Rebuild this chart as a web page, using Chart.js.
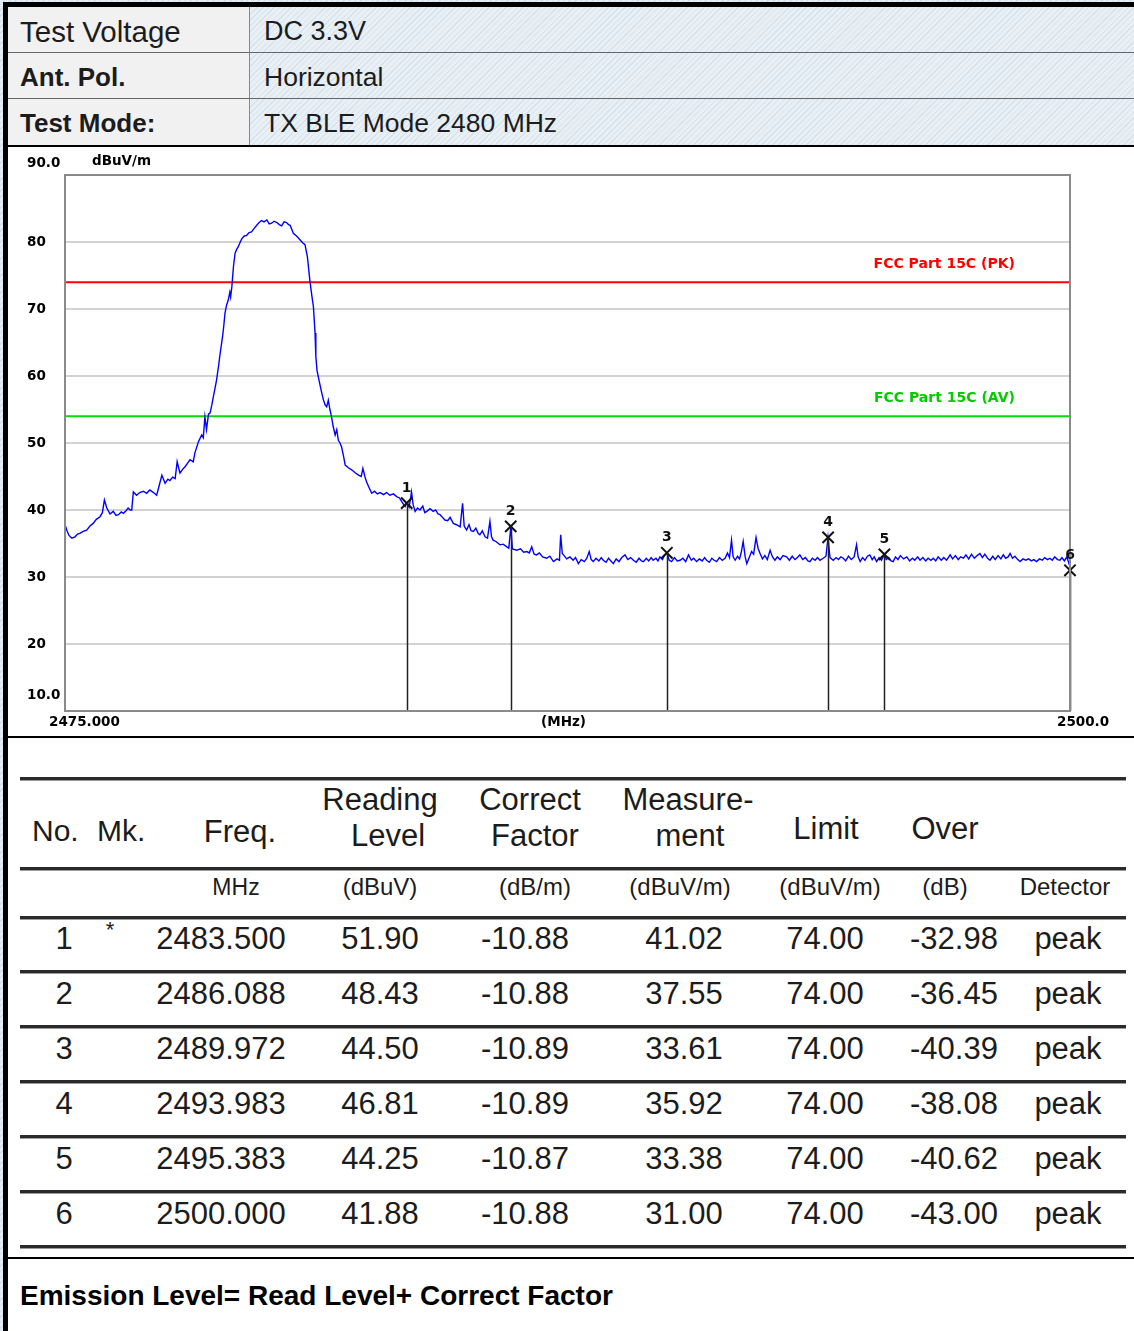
<!DOCTYPE html>
<html>
<head>
<meta charset="utf-8">
<script src="https://cdn.jsdelivr.net/npm/chart.js"></script>
<style>
  html, body { margin: 0; padding: 0; }
  body {
    width: 1134px; height: 1331px; position: relative; overflow: hidden;
    font-family: "Liberation Sans", Arial, sans-serif; color: #1c1c1c;
    background: repeating-linear-gradient(-45deg, #e6eef5 0px, #e6eef5 3px, #d2dfea 3px, #d2dfea 4px);
  }
  .blk { position: absolute; background: #000; }
  .cell { position: absolute; box-sizing: border-box; }
  .lab { background: #f1f1f1; }
  .val { background: repeating-linear-gradient(-45deg, #e8f0f6 0px, #e8f0f6 3px, #d6e2ec 3px, #d6e2ec 4px); }
  .t { position: absolute; white-space: nowrap; line-height: 1; }
  .hl { position: absolute; left: 20px; width: 1106px; height: 3px; background: #2a2a2a; box-shadow: 0 1px 0 #9a9a9a; }
</style>
</head>
<body>
<!-- page frame -->
<div class="blk" style="left:3px; top:2px; width:1131px; height:5px;"></div>
<div class="blk" style="left:3px; top:2px; width:5px; height:1329px;"></div>
<div class="cell" style="left:8px; top:147px; width:1126px; height:1184px; background:#fff;"></div>

<!-- header info table -->
<div class="cell lab" style="left:8px; top:7px; width:241px; height:46px; border-bottom:1px solid #666;"></div>
<div class="cell val" style="left:249px; top:7px; width:885px; height:46px; border-bottom:1px solid #666; border-left:1px solid #888;"></div>
<div class="cell lab" style="left:8px; top:53px; width:241px; height:46px; border-bottom:1px solid #666;"></div>
<div class="cell val" style="left:249px; top:53px; width:885px; height:46px; border-bottom:1px solid #666; border-left:1px solid #888;"></div>
<div class="cell lab" style="left:8px; top:99px; width:241px; height:46px;"></div>
<div class="cell val" style="left:249px; top:99px; width:885px; height:46px; border-left:1px solid #888;"></div>
<div class="blk" style="left:8px; top:145px; width:1126px; height:2px;"></div>
<div class="t" style="left:20px; top:17px; font-size:29.5px;">Test Voltage</div>
<div class="t" style="left:264px; top:18px; font-size:27px;">DC 3.3V</div>
<div class="t" style="left:20px; top:64px; font-size:26px; font-weight:bold;">Ant. Pol.</div>
<div class="t" style="left:264px; top:64px; font-size:26.5px;">Horizontal</div>
<div class="t" style="left:20px; top:110px; font-size:26px; font-weight:bold;">Test Mode:</div>
<div class="t" style="left:264px; top:110px; font-size:26.5px;">TX BLE Mode 2480 MHz</div>

<!-- chart -->
<canvas id="emiChart" width="1126" height="589" style="position:absolute; left:8px; top:147px;"></canvas>
<div class="blk" style="left:8px; top:736px; width:1126px; height:2px;"></div>

<!-- result table -->
<div id="tbl"></div>
<div class="blk" style="left:8px; top:1257px; width:1126px; height:2px;"></div>
<div class="t" style="left:20px; top:1282px; font-size:28px; font-weight:bold; color:#000;">Emission Level= Read Level+ Correct Factor</div>

<script>
// spectrum trace (MHz / dBuV/m)
var traceFreq = [
  2475.00, 2475.05, 2475.10, 2475.17, 2475.25, 2475.31, 2475.37, 2475.45, 2475.54, 2475.62,
  2475.70, 2475.78, 2475.87, 2475.93, 2475.98, 2476.04, 2476.12, 2476.20, 2476.27, 2476.33,
  2476.40, 2476.45, 2476.52, 2476.57, 2476.62, 2476.66, 2476.70, 2476.78, 2476.86, 2476.95,
  2477.03, 2477.11, 2477.20, 2477.28, 2477.35, 2477.41, 2477.49, 2477.56, 2477.61, 2477.68,
  2477.74, 2477.79, 2477.86, 2477.93, 2477.99, 2478.05, 2478.11, 2478.19, 2478.23, 2478.32,
  2478.40, 2478.44, 2478.48, 2478.52, 2478.57, 2478.61, 2478.65, 2478.69, 2478.77, 2478.82,
  2478.86, 2478.92, 2478.95, 2478.98, 2479.02, 2479.06, 2479.10, 2479.12, 2479.15, 2479.19,
  2479.23, 2479.27, 2479.31, 2479.36, 2479.40, 2479.46, 2479.52, 2479.58, 2479.64, 2479.70,
  2479.77, 2479.83, 2479.89, 2479.95, 2480.02, 2480.08, 2480.14, 2480.20, 2480.27, 2480.33,
  2480.39, 2480.45, 2480.51, 2480.56, 2480.60, 2480.68, 2480.76, 2480.85, 2480.91, 2480.97,
  2481.03, 2481.09, 2481.14, 2481.18, 2481.22, 2481.24, 2481.27, 2481.30, 2481.35, 2481.39,
  2481.43, 2481.47, 2481.51, 2481.55, 2481.59, 2481.63, 2481.67, 2481.72, 2481.76, 2481.80,
  2481.84, 2481.88, 2481.93, 2481.97, 2482.05, 2482.13, 2482.21, 2482.30, 2482.37, 2482.41,
  2482.46, 2482.50, 2482.56, 2482.63, 2482.70, 2482.77, 2482.84, 2482.92, 2483.00, 2483.08,
  2483.17, 2483.25, 2483.32, 2483.38, 2483.46, 2483.50, 2483.56, 2483.62, 2483.66, 2483.71,
  2483.77, 2483.83, 2483.90, 2483.95, 2484.00, 2484.08, 2484.16, 2484.22, 2484.28, 2484.33,
  2484.39, 2484.45, 2484.52, 2484.58, 2484.66, 2484.74, 2484.83, 2484.89, 2484.93, 2484.99,
  2485.05, 2485.10, 2485.16, 2485.22, 2485.28, 2485.32, 2485.38, 2485.45, 2485.51, 2485.57,
  2485.61, 2485.65, 2485.72, 2485.82, 2485.90, 2485.99, 2486.04, 2486.09, 2486.13, 2486.24,
  2486.33, 2486.41, 2486.49, 2486.55, 2486.61, 2486.67, 2486.73, 2486.80, 2486.88, 2486.98,
  2487.06, 2487.15, 2487.24, 2487.30, 2487.33, 2487.37, 2487.40, 2487.48, 2487.56, 2487.64,
  2487.70, 2487.77, 2487.84, 2487.92, 2487.98, 2488.04, 2488.09, 2488.14, 2488.21, 2488.28,
  2488.34, 2488.39, 2488.46, 2488.52, 2488.58, 2488.64, 2488.71, 2488.78, 2488.85, 2488.93,
  2489.00, 2489.07, 2489.14, 2489.21, 2489.28, 2489.34, 2489.39, 2489.46, 2489.52, 2489.58,
  2489.63, 2489.70, 2489.75, 2489.80, 2489.86, 2489.92, 2489.97, 2490.03, 2490.09, 2490.16,
  2490.23, 2490.30, 2490.37, 2490.44, 2490.51, 2490.58, 2490.64, 2490.71, 2490.78, 2490.85,
  2490.91, 2490.96, 2491.03, 2491.09, 2491.15, 2491.21, 2491.28, 2491.35, 2491.42, 2491.48,
  2491.53, 2491.58, 2491.62, 2491.67, 2491.73, 2491.78, 2491.83, 2491.87, 2491.92, 2491.96,
  2492.02, 2492.08, 2492.13, 2492.19, 2492.24, 2492.29, 2492.35, 2492.41, 2492.47, 2492.54,
  2492.60, 2492.66, 2492.72, 2492.79, 2492.86, 2492.95, 2493.02, 2493.09, 2493.16, 2493.22,
  2493.28, 2493.35, 2493.42, 2493.48, 2493.53, 2493.59, 2493.66, 2493.72, 2493.78, 2493.86,
  2493.93, 2493.98, 2494.03, 2494.11, 2494.18, 2494.24, 2494.30, 2494.36, 2494.42, 2494.49,
  2494.56, 2494.63, 2494.69, 2494.73, 2494.78, 2494.84, 2494.90, 2494.96, 2495.02, 2495.08,
  2495.13, 2495.19, 2495.25, 2495.31, 2495.38, 2495.43, 2495.49, 2495.55, 2495.60, 2495.66,
  2495.72, 2495.78, 2495.86, 2495.94, 2496.01, 2496.08, 2496.14, 2496.21, 2496.27, 2496.34,
  2496.41, 2496.47, 2496.54, 2496.60, 2496.66, 2496.72, 2496.80, 2496.86, 2496.93, 2497.02,
  2497.08, 2497.15, 2497.22, 2497.28, 2497.35, 2497.41, 2497.48, 2497.55, 2497.62, 2497.69,
  2497.76, 2497.82, 2497.88, 2497.95, 2498.01, 2498.08, 2498.14, 2498.21, 2498.28, 2498.34,
  2498.40, 2498.46, 2498.51, 2498.57, 2498.63, 2498.70, 2498.76, 2498.83, 2498.90, 2498.97,
  2499.04, 2499.10, 2499.17, 2499.24, 2499.31, 2499.37, 2499.44, 2499.50, 2499.56, 2499.62,
  2499.69, 2499.75, 2499.80, 2499.86, 2499.92, 2499.96, 2500.00
];
var traceLevel = [
  37.8, 36.9, 36.2, 35.8, 36.0, 36.4, 36.5, 36.8, 37.0, 37.6,
  38.0, 38.6, 39.0, 39.6, 41.5, 40.3, 39.4, 39.8, 39.2, 39.3,
  39.7, 39.5, 39.9, 40.3, 40.0, 40.0, 42.7, 42.2, 42.6, 42.8,
  42.5, 43.0, 42.6, 42.2, 43.8, 45.2, 44.0, 44.6, 44.4, 44.9,
  44.7, 47.2, 45.5, 46.1, 46.5, 47.0, 47.5, 47.2, 48.5, 50.2,
  51.2, 50.8, 53.9, 52.0, 54.3, 54.5, 55.6, 56.9, 59.4, 61.5,
  63.4, 65.9, 67.5, 69.4, 70.6, 71.3, 72.5, 71.8, 73.3, 76.3,
  78.3, 78.9, 79.3, 80.0, 80.5, 80.9, 81.0, 81.4, 81.5, 82.0,
  82.5, 82.9, 83.2, 83.0, 83.3, 82.7, 82.8, 83.1, 82.9, 82.6,
  82.4, 83.0, 82.9, 82.6, 82.5, 81.3, 80.9, 80.3, 79.9, 79.6,
  77.8, 74.3, 72.0, 70.3, 66.4, 62.9, 60.8, 59.9, 58.5, 57.4,
  56.4, 55.7, 55.4, 56.4, 55.0, 53.9, 52.5, 51.2, 52.0, 50.4,
  50.0, 49.4, 48.0, 46.7, 46.3, 46.0, 45.6, 45.2, 45.0, 46.2,
  45.0, 44.2, 43.4, 42.5, 42.8, 42.4, 42.6, 42.3, 42.6, 42.2,
  42.4, 42.0, 41.8, 41.2, 40.5, 41.0, 40.4, 42.7, 40.8, 39.8,
  40.3, 40.0, 40.6, 39.6, 39.8, 40.2, 39.8, 40.0, 39.4, 39.3,
  38.9, 38.5, 38.4, 38.9, 38.0, 37.8, 37.5, 41.0, 37.6, 37.0,
  37.8, 36.9, 36.8, 37.3, 36.5, 36.3, 36.9, 36.0, 35.8, 38.3,
  36.0, 35.5, 35.3, 34.8, 34.9, 34.5, 34.3, 37.5, 34.2, 34.0,
  34.2, 33.7, 33.8, 33.6, 34.5, 33.4, 33.3, 33.6, 33.0, 32.8,
  33.1, 32.3, 32.7, 32.5, 36.3, 33.5, 33.3, 32.7, 33.0, 32.5,
  32.9, 32.0, 32.6, 32.3, 32.8, 33.8, 32.6, 32.3, 32.8, 32.4,
  32.9, 32.5, 32.2, 32.8, 32.4, 32.0, 32.7, 32.3, 32.9, 33.3,
  32.6, 32.9, 32.5, 32.2, 32.8, 32.4, 32.3, 32.8, 32.4, 32.9,
  32.5, 32.8, 32.4, 33.0, 32.6, 33.3, 33.6, 32.5, 32.3, 32.9,
  32.4, 32.5, 32.8, 32.3, 33.3, 32.5, 32.8, 32.3, 32.7, 32.4,
  32.9, 32.5, 32.2, 32.8, 32.5, 32.3, 32.9, 32.5, 32.8, 33.6,
  32.9, 35.5, 33.0, 32.5, 33.1, 32.7, 33.9, 35.3, 33.0, 32.0,
  32.9, 33.8, 33.4, 35.9, 34.3, 33.5, 32.7, 33.2, 32.6, 34.0,
  33.0, 32.5, 33.0, 32.6, 33.2, 33.0, 32.5, 33.1, 32.6, 32.9,
  33.3, 32.6, 32.9, 32.4, 32.3, 32.8, 32.5, 32.9, 32.5, 32.8,
  33.1, 35.9, 32.9, 32.5, 32.9, 32.6, 33.0, 32.8, 32.4, 33.1,
  32.6, 33.0, 34.8, 33.0, 32.3, 32.9, 32.5, 33.1, 33.3, 32.6,
  33.0, 32.3, 32.9, 32.5, 33.4, 32.6, 32.9, 32.4, 32.3, 33.0,
  32.6, 33.2, 32.7, 33.0, 32.4, 32.8, 32.5, 33.0, 32.5, 32.9,
  32.4, 32.8, 32.5, 32.8, 32.4, 33.0, 32.5, 32.9, 32.5, 33.3,
  32.7, 33.2, 32.6, 33.0, 32.8, 33.3, 32.7, 33.4, 32.8, 33.2,
  33.5, 32.9, 33.4, 32.8, 32.5, 33.1, 32.6, 33.2, 32.7, 33.3,
  32.8, 33.0, 33.5, 32.8, 33.1, 32.6, 32.3, 32.7, 32.5, 32.7,
  32.4, 32.6, 32.3, 32.7, 32.5, 32.9, 32.6, 32.8, 32.5, 33.0,
  32.6, 32.5, 32.9, 32.4, 33.0, 32.3, 31.5
];

// limits
var limitPK = 74;
var limitAV = 54;

// marker table
var markerNo = [1, 2, 3, 4, 5, 6];
var markerMk = ['*', '', '', '', '', ''];
var markerFreq = [2483.500, 2486.088, 2489.972, 2493.983, 2495.383, 2500.000];
var readingLevel = [51.90, 48.43, 44.50, 46.81, 44.25, 41.88];
var correctFactor = [-10.88, -10.88, -10.89, -10.89, -10.87, -10.88];
var measurement = [41.02, 37.55, 33.61, 35.92, 33.38, 31.00];
var limitLevel = [74.00, 74.00, 74.00, 74.00, 74.00, 74.00];
var overLimit = [-32.98, -36.45, -40.39, -38.08, -40.62, -43.00];
var detector = ['peak', 'peak', 'peak', 'peak', 'peak', 'peak'];

// axis labels
var yTickValues = [90, 80, 70, 60, 50, 40, 30, 20, 10];
var yTickLabels = ['90.0', '80', '70', '60', '50', '40', '30', '20', '10.0'];

// ---------- chart ----------
var tracePoints = traceFreq.map(function(f, i){ return {x: f, y: traceLevel[i]}; });
var markerPoints = markerFreq.map(function(f, i){ return {x: f, y: measurement[i]}; });

var emiDecor = {
  id: 'emiDecor',
  afterDatasetsDraw: function(chart){
    var c = chart.ctx, a = chart.chartArea, xs = chart.scales.x, ys = chart.scales.y;
    c.save();
    // marker drop lines
    c.strokeStyle = '#222';
    c.lineWidth = 1.5;
    markerFreq.forEach(function(f, i){
      var px = Math.round(xs.getPixelForValue(f)) + 0.5;
      c.beginPath();
      c.moveTo(px, ys.getPixelForValue(measurement[i]));
      c.lineTo(px, a.bottom);
      c.stroke();
    });
    // plot frame
    c.strokeStyle = '#8a8a8a';
    c.lineWidth = 2;
    c.strokeRect(a.left, a.top, a.right - a.left, a.bottom - a.top);
    c.restore();
  },
  afterDraw: function(chart){
    var c = chart.ctx, a = chart.chartArea, xs = chart.scales.x, ys = chart.scales.y;
    c.save();
    c.font = 'bold 13.5px "DejaVu Sans"';
    c.fillStyle = '#000';
    c.textBaseline = 'middle';
    // y labels
    c.textAlign = 'left';
    yTickValues.forEach(function(v, i){
      var py = ys.getPixelForValue(v);
      if (v == 90) py -= 12;
      if (v == 10) py -= 16;
      c.fillText(yTickLabels[i], 19, py);
    });
    c.fillText('dBuV/m', 84, a.top - 14);
    // x labels
    var by = a.bottom + 11;
    c.textAlign = 'left';
    c.fillText('2475.000', xs.getPixelForValue(2475) - 16, by);
    c.textAlign = 'center';
    c.fillText('(MHz)', xs.getPixelForValue(2487.5) - 4, by);
    c.textAlign = 'left';
    c.fillText('2500.0', xs.getPixelForValue(2500) - 13, by);
    // limit labels
    c.font = 'bold 14px "DejaVu Sans"';
    c.textAlign = 'right';
    c.fillStyle = '#ff0000';
    c.fillText('FCC Part 15C (PK)', xs.getPixelForValue(2498.63), ys.getPixelForValue(limitPK) - 18);
    c.fillStyle = '#00cc00';
    c.fillText('FCC Part 15C (AV)', xs.getPixelForValue(2498.63), ys.getPixelForValue(limitAV) - 18);
    // marker numbers
    c.font = 'bold 14px "DejaVu Sans"';
    c.fillStyle = '#111';
    c.textAlign = 'center';
    markerFreq.forEach(function(f, i){
      c.fillText(String(markerNo[i]), xs.getPixelForValue(f), ys.getPixelForValue(measurement[i]) - 15);
    });
    c.restore();
  }
};

new Chart(document.getElementById('emiChart'), {
  type: 'scatter',
  data: {
    datasets: [
      {label: 'Markers', data: markerPoints, showLine: false, pointStyle: 'crossRot', clip: false,
       pointRadius: 8, pointBorderColor: '#111', pointBorderWidth: 2, pointHoverRadius: 8},
      {label: 'Trace', data: tracePoints, showLine: true, borderColor: '#0000ff',
       borderWidth: 1.4, pointRadius: 0, tension: 0},
      {label: 'FCC Part 15C (PK)', data: [{x: 2475, y: limitPK}, {x: 2500, y: limitPK}], showLine: true,
       borderColor: '#ff0000', borderWidth: 2, pointRadius: 0},
      {label: 'FCC Part 15C (AV)', data: [{x: 2475, y: limitAV}, {x: 2500, y: limitAV}], showLine: true,
       borderColor: '#00dd00', borderWidth: 2, pointRadius: 0}
    ]
  },
  options: {
    responsive: false,
    animation: false,
    devicePixelRatio: 1,
    layout: {padding: {left: 57, right: 64, top: 28, bottom: 25}},
    plugins: {legend: {display: false}, tooltip: {enabled: false}},
    scales: {
      x: {type: 'linear', min: 2475, max: 2500,
          ticks: {display: false}, grid: {display: false, drawTicks: false}, border: {display: false}},
      y: {type: 'linear', min: 10, max: 90,
          ticks: {display: false, stepSize: 10}, grid: {color: '#d2d2d2', lineWidth: 2, drawTicks: false},
          border: {display: false}}
    }
  },
  plugins: [emiDecor]
});

// ---------- result table ----------
var tbl = document.getElementById('tbl');
function put(str, x, y, size, align){
  var d = document.createElement('div');
  d.className = 't';
  d.textContent = str;
  d.style.fontSize = size + 'px';
  d.style.left = x + 'px';
  d.style.top = y + 'px';
  d.style.transform = align == 'left' ? 'translate(0,-50%)' : 'translate(-50%,-50%)';
  tbl.appendChild(d);
}
function hline(y){
  var d = document.createElement('div');
  d.className = 'hl';
  d.style.top = (y - 1) + 'px';
  tbl.appendChild(d);
}
[778, 868, 917, 971, 1026, 1081, 1136, 1191, 1246].forEach(hline);

put('No.', 32, 831, 30, 'left');
put('Mk.', 97, 831, 30, 'left');
put('Freq.', 240, 831, 31);
put('Reading', 380, 799, 31); put('Level', 388, 835, 31);
put('Correct', 530, 799, 31); put('Factor', 535, 835, 31);
put('Measure-', 688, 799, 31); put('ment', 690, 835, 31);
put('Limit', 826, 828, 31);
put('Over', 945, 828, 31);

put('MHz', 236, 887, 23);
put('(dBuV)', 380, 887, 24);
put('(dB/m)', 535, 887, 24);
put('(dBuV/m)', 680, 887, 24);
put('(dBuV/m)', 830, 887, 24);
put('(dB)', 945, 887, 24);
put('Detector', 1065, 887, 24);

var rowY = [938, 993, 1048, 1103, 1158, 1213];
markerNo.forEach(function(n, i){
  var y = rowY[i];
  put(String(n), 64, y, 31);
  if (markerMk[i]) put(markerMk[i], 110, y - 8, 22);
  put(markerFreq[i].toFixed(3), 221, y, 31);
  put(readingLevel[i].toFixed(2), 380, y, 31);
  put(correctFactor[i].toFixed(2), 525, y, 31);
  put(measurement[i].toFixed(2), 684, y, 31);
  put(limitLevel[i].toFixed(2), 825, y, 31);
  put(overLimit[i].toFixed(2), 954, y, 31);
  put(detector[i], 1068, y, 31);
});
</script>
</body>
</html>
